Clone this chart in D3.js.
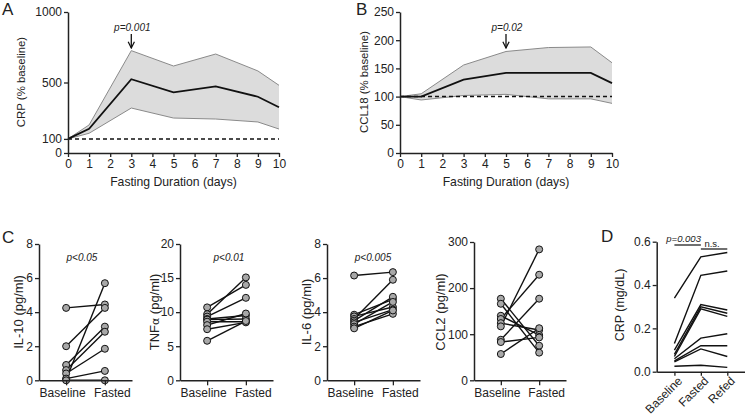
<!DOCTYPE html>
<html>
<head>
<meta charset="utf-8">
<script src="https://cdn.jsdelivr.net/npm/d3@7"></script>
<style>
html,body{margin:0;padding:0;background:#fff;}
svg{display:block;}
text{font-family:"Liberation Sans",Arial,Helvetica,sans-serif;fill:#222;}
</style>
</head>
<body>
<svg id="chart" width="745" height="419"></svg>
<script>
// ---------- DATA ----------
const days = [0, 1, 3, 5, 7, 9, 10];
const xTicksDays = [0, 1, 2, 3, 4, 5, 6, 7, 8, 9, 10];

const crpMean  = [100, 172, 523, 430, 473, 399, 324];
const crpUpper = [100, 199, 726, 617, 702, 582, 480];
const crpLower = [100, 140, 319, 248, 241, 220, 170];
const crpTicks = [0, 100, 500, 1000];

const ccl18Mean  = [100, 100, 130, 142, 142, 142, 124];
const ccl18Upper = [100, 105, 156, 180, 187, 188, 160];
const ccl18Lower = [100, 94, 102, 104, 96, 96, 88];
const ccl18Ticks = [0, 50, 100, 150, 200, 250];

const pairCats = ["Baseline", "Fasted"];
const il10Baseline = [4.25, 2.0, 0.9, 0.6, 0.4, 0.05, 0.1, 0.0];
const il10Fasted   = [4.45, 4.25, 3.15, 2.85, 1.85, 5.7, 0.55, 0.0];
const il10Ticks = [0, 2, 4, 6, 8];

const tnfBaseline = [10.7, 9.7, 9.35, 9.0, 8.9, 8.6, 8.1, 7.5, 5.8];
const tnfFasted   = [14.0, 15.1, 12.1, 9.5, 9.0, 8.6, 9.8, 8.5, 8.7];
const tnfTicks = [0, 5, 10, 15, 20];

const il6Baseline = [6.15, 3.85, 3.75, 3.6, 3.5, 3.4, 3.3, 3.15, 3.05];
const il6Fasted   = [6.35, 4.75, 4.3, 5.9, 4.9, 4.15, 4.6, 3.9, 4.1];
const il6Ticks = [0, 2, 4, 6, 8];

const ccl2Baseline = [177, 166, 140, 133, 124, 117, 88, 83, 57];
const ccl2Fasted   = [75, 60, 98, 229, 109, 284, 177, 93, 113];
const ccl2Ticks = [0, 100, 200, 300];

const dCats = ["Baseline", "Fasted", "Refed"];
const dBaseline = [0.34, 0.13, 0.10, 0.08, 0.07, 0.06, 0.05, 0.045, 0.025];
const dFasted   = [0.53, 0.445, 0.31, 0.30, 0.29, 0.155, 0.12, 0.105, 0.03];
const dRefed    = [0.55, 0.465, 0.285, 0.27, 0.255, 0.175, 0.12, 0.07, 0.02];
const dTicks = [0.0, 0.2, 0.4, 0.6];

// ---------- DRAW ----------
const svg = d3.select("#chart");
const FONT = 12;

svg.append("defs").append("marker")
  .attr("id", "arrow").attr("viewBox", "0 0 10 10").attr("refX", 9).attr("refY", 5)
  .attr("markerWidth", 6).attr("markerHeight", 6).attr("orient", "auto")
  .append("path").attr("d", "M1,1 L9,5 L1,9").attr("fill", "none").attr("stroke", "#111").attr("stroke-width", 1.6);

function styleAxis(g) {
  g.select(".domain").attr("stroke", "#222").attr("stroke-width", 1.5);
  g.selectAll(".tick line").attr("stroke", "#222").attr("stroke-width", 1.3);
  g.selectAll(".tick text").attr("font-size", FONT).attr("fill", "#222")
    .attr("font-family", '"Liberation Sans",Arial,sans-serif');
}

function yTitle(cx, cy, size) {
  return svg.append("text")
    .attr("transform", `translate(${cx},${cy}) rotate(-90)`)
    .attr("text-anchor", "middle").attr("dy", "0.35em")
    .attr("font-size", size);
}

function letter(x, y, s) {
  svg.append("text").attr("x", x).attr("y", y).attr("font-size", 17).text(s);
}

function linePanel(opts) {
  const x = d3.scaleLinear().domain([0, 10]).range([opts.x0, opts.x1]);
  const y = d3.scaleLinear().domain(opts.domain).range([153, 12]);
  const g = svg.append("g");
  const pts = days.map((d, i) => ({d, m: opts.mean[i], u: opts.upper[i], l: opts.lower[i]}));
  g.append("path").datum(pts)
    .attr("d", d3.area().x(p => x(p.d)).y0(p => y(p.l)).y1(p => y(p.u)))
    .attr("fill", "#dcdcdc").attr("stroke", "none");
  g.append("path").datum(pts).attr("d", d3.line().x(p => x(p.d)).y(p => y(p.u)))
    .attr("fill", "none").attr("stroke", "#8a8a8a").attr("stroke-width", 1);
  g.append("path").datum(pts).attr("d", d3.line().x(p => x(p.d)).y(p => y(p.l)))
    .attr("fill", "none").attr("stroke", "#8a8a8a").attr("stroke-width", 1);
  g.append("line").attr("x1", x(0)).attr("x2", x(10)).attr("y1", y(100)).attr("y2", y(100))
    .attr("stroke", "#111").attr("stroke-width", 1.5).attr("stroke-dasharray", "4,3");
  g.append("path").datum(pts).attr("d", d3.line().x(p => x(p.d)).y(p => y(p.m)))
    .attr("fill", "none").attr("stroke", "#111").attr("stroke-width", 1.8);

  const ya = svg.append("g").attr("transform", `translate(${opts.x0},0)`)
    .call(d3.axisLeft(y).tickValues(opts.ticks).tickFormat(d3.format("d"))
      .tickSize(4).tickPadding(2).tickSizeOuter(0));
  styleAxis(ya);
  const xa = svg.append("g").attr("transform", `translate(0,153)`)
    .call(d3.axisBottom(x).tickValues(xTicksDays).tickSize(4).tickPadding(2).tickSizeOuter(0));
  styleAxis(xa);

  svg.append("text").attr("x", (opts.x0 + opts.x1) / 2).attr("y", 186)
    .attr("text-anchor", "middle").attr("font-size", 12.2).text("Fasting Duration (days)");
  yTitle(opts.titleX, 82, 11.4).text(opts.title);

  const ax = x(opts.annDay);
  svg.append("text").attr("x", ax + 1).attr("y", 31).attr("text-anchor", "middle")
    .attr("font-size", 10).attr("font-style", "italic").text(opts.ann);
  svg.append("line").attr("x1", ax).attr("x2", ax).attr("y1", 34).attr("y2", 48)
    .attr("stroke", "#111").attr("stroke-width", 1.3).attr("marker-end", "url(#arrow)");
}

linePanel({x0: 68, x1: 279, domain: [0, 1000], ticks: crpTicks, mean: crpMean, upper: crpUpper,
  lower: crpLower, title: "CRP (% baseline)", titleX: 21, ann: "p=0.001", annDay: 3});
linePanel({x0: 400, x1: 612, domain: [0, 250], ticks: ccl18Ticks, mean: ccl18Mean, upper: ccl18Upper,
  lower: ccl18Lower, title: "CCL18 (% baseline)", titleX: 364, ann: "p=0.02", annDay: 5});
letter(2, 15, "A");
letter(356, 15, "B");

function pairPanel(o) {
  const x = d3.scalePoint().domain(pairCats).range([o.x0, o.x1]).padding(0.7);
  const y = d3.scaleLinear().domain(o.domain).range([380.3, o.top]);
  const g = svg.append("g");
  const pairs = o.base.map((b, i) => ({b, f: o.fast[i]}));
  g.selectAll("line.pair").data(pairs).enter().append("line")
    .attr("x1", x("Baseline")).attr("x2", x("Fasted"))
    .attr("y1", p => y(p.b)).attr("y2", p => y(p.f))
    .attr("stroke", "#111").attr("stroke-width", 1.4);
  g.selectAll("circle.b").data(o.base).enter().append("circle")
    .attr("cx", x("Baseline")).attr("cy", v => y(v)).attr("r", 3.5)
    .attr("fill", "#a8a8a8").attr("stroke", "#111").attr("stroke-width", 1);
  g.selectAll("circle.f").data(o.fast).enter().append("circle")
    .attr("cx", x("Fasted")).attr("cy", v => y(v)).attr("r", 3.5)
    .attr("fill", "#a8a8a8").attr("stroke", "#111").attr("stroke-width", 1);

  const ya = svg.append("g").attr("transform", `translate(${o.x0},0)`)
    .call(d3.axisLeft(y).tickValues(o.ticks).tickSize(4).tickPadding(2).tickSizeOuter(0));
  styleAxis(ya);
  const xa = svg.append("g").attr("transform", `translate(0,380.3)`)
    .call(d3.axisBottom(x).tickSize(5).tickPadding(3.5).tickSizeOuter(0));
  styleAxis(xa);
  xa.selectAll(".tick text").attr("dx", d => d === "Baseline" ? -4 : 7);
  const yt = yTitle(o.titleX, 312, 13);
  if (o.greek) {
    yt.append("tspan").text("TNF");
    yt.append("tspan").attr("font-family", '"DejaVu Sans",sans-serif').attr("font-size", 11).text("α");
    yt.append("tspan").text(" (pg/ml)");
  } else {
    yt.text(o.title);
  }
  if (o.p) {
    svg.append("text").attr("x", o.pX).attr("y", 261).attr("text-anchor", "middle")
      .attr("font-size", 10).attr("font-style", "italic").text(o.p);
  }
}

pairPanel({x0: 39, x1: 132, top: 244, domain: [0, 8], ticks: il10Ticks, base: il10Baseline, fast: il10Fasted,
  title: "IL-10 (pg/ml)", titleX: 18, p: "p<0.05", pX: 82});
pairPanel({x0: 180, x1: 273, top: 244, domain: [0, 20], ticks: tnfTicks, base: tnfBaseline, fast: tnfFasted,
  title: "TNFα (pg/ml)", titleX: 154, greek: true, p: "p<0.01", pX: 229});
pairPanel({x0: 327, x1: 420, top: 244, domain: [0, 8], ticks: il6Ticks, base: il6Baseline, fast: il6Fasted,
  title: "IL-6 (pg/ml)", titleX: 306, p: "p<0.005", pX: 373});
pairPanel({x0: 474, x1: 566, top: 242, domain: [0, 300], ticks: ccl2Ticks, base: ccl2Baseline, fast: ccl2Fasted,
  title: "CCL2 (pg/ml)", titleX: 440});
letter(2, 243, "C");

// Panel D
(function () {
  const x = d3.scalePoint().domain(dCats).range([656.7, 745]).padding(0.67);
  const y = d3.scaleLinear().domain([0, 0.6]).range([371.7, 241.7]);
  const rows = dBaseline.map((b, i) => [
    {c: "Baseline", v: b}, {c: "Fasted", v: dFasted[i]}, {c: "Refed", v: dRefed[i]}]);
  svg.append("g").selectAll("path").data(rows).enter().append("path")
    .attr("d", d3.line().x(p => x(p.c)).y(p => y(p.v)))
    .attr("fill", "none").attr("stroke", "#111").attr("stroke-width", 1.4);
  const ya = svg.append("g").attr("transform", `translate(656.7,0)`)
    .call(d3.axisLeft(y).tickValues(dTicks).tickFormat(d3.format(".1f")).tickSize(4).tickPadding(2).tickSizeOuter(0));
  styleAxis(ya);
  const xa = svg.append("g").attr("transform", `translate(0,371.7)`)
    .call(d3.axisBottom(x).tickSize(4).tickSizeOuter(0));
  styleAxis(xa);
  xa.selectAll(".tick text").attr("font-size", 12).attr("text-anchor", "end").attr("x", 0).attr("y", 0).attr("dy", "0.35em")
    .attr("transform", "translate(5,7) rotate(-45)");
  yTitle(620, 305, 12.5).text("CRP (mg/dL)");
  letter(601, 242, "D");
  svg.append("line").attr("x1", x("Baseline")).attr("x2", x("Fasted")).attr("y1", 245).attr("y2", 245)
    .attr("stroke", "#222").attr("stroke-width", 1.3);
  svg.append("line").attr("x1", x("Fasted")).attr("x2", x("Refed")).attr("y1", 249).attr("y2", 249)
    .attr("stroke", "#222").attr("stroke-width", 1.3);
  svg.append("text").attr("x", (x("Baseline") + x("Fasted")) / 2 - 4).attr("y", 242).attr("text-anchor", "middle")
    .attr("font-size", 9.5).attr("font-style", "italic").text("p=0.003");
  svg.append("text").attr("x", (x("Fasted") + x("Refed")) / 2 - 2).attr("y", 246.5).attr("text-anchor", "middle")
    .attr("font-size", 9.5).text("n.s.");
})();
</script>
</body>
</html>
